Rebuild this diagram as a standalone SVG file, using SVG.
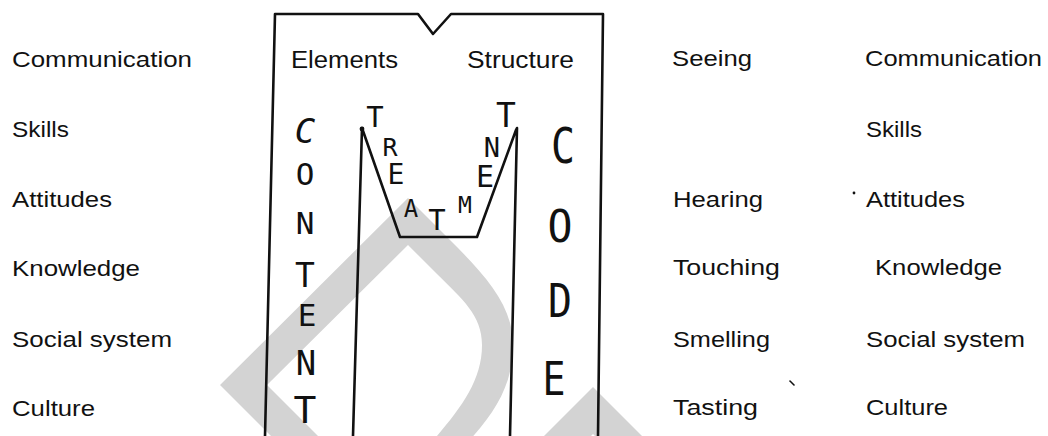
<svg xmlns="http://www.w3.org/2000/svg" width="1048" height="436" viewBox="0 0 1048 436">
  <style>
    .lbl { font-family: "Liberation Sans", Arial, sans-serif; font-size: 22px; fill: #111; }
    .hdr { font-family: "Liberation Sans", Arial, sans-serif; font-size: 23px; fill: #111; }
    .hw { font-family: "DejaVu Sans Mono", monospace; fill: #111; text-anchor: middle; }
    .ln { fill: none; stroke: #111; stroke-width: 2.6; stroke-linecap: round; stroke-linejoin: round; }
    .wm { fill: #d3d3d3; fill-rule: evenodd; }
  </style>
  <rect width="1048" height="436" fill="#ffffff"/>

  <g id="watermark">
    <path class="wm" d="M408,198 L450,240 C485,275 513,305 513,345 C513,385 495,415 460,450 L285,450 L220,385 Z M408,245 L437,274 C462,299 482,315 482,345 C482,385 455,415 425,450 L332,450 L267,385 Z"/>
    <path class="wm" d="M593,387 L660,454 L613,454 L593,434 L573,454 L526,454 Z"/>
  </g>

  <g id="connectors">
    <path class="ln" d="M265,436 L275,14 L418,14 L433,34 L451,14 L603,14 L598,436"/>
    <path class="ln" d="M353,436 L362,128 L400,237 L477,237 L516,130 L517,128 L510,436"/>
    <circle cx="362" cy="129" r="2.4" fill="#111"/>
  </g>

  <g id="box-headers">
    <text class="hdr" x="291" y="68" textLength="107" lengthAdjust="spacingAndGlyphs">Elements</text>
    <text class="hdr" x="467" y="68" textLength="107" lengthAdjust="spacingAndGlyphs">Structure</text>
  </g>

  <g id="content">
    <text class="hw" x="305" y="143" font-size="34" font-family="Liberation Serif" font-style="italic">C</text>
    <text class="hw" x="305" y="185" font-size="31">O</text>
    <text class="hw" x="305" y="234" font-size="31">N</text>
    <text class="hw" x="305" y="287" font-size="33">T</text>
    <text class="hw" x="307" y="326" font-size="31">E</text>
    <text class="hw" x="306" y="375" font-size="34">N</text>
    <text class="hw" x="305" y="423" font-size="38">T</text>
  </g>

  <g id="code">
    <text class="hw" x="563" y="163" font-size="50" textLength="24" lengthAdjust="spacingAndGlyphs">C</text>
    <text class="hw" x="560" y="242" font-size="44" textLength="25" lengthAdjust="spacingAndGlyphs">O</text>
    <text class="hw" x="560" y="317" font-size="47" textLength="24" lengthAdjust="spacingAndGlyphs">D</text>
    <text class="hw" x="554" y="395" font-size="47" textLength="23" lengthAdjust="spacingAndGlyphs">E</text>
  </g>

  <g id="treatment">
    <text class="hw" x="375" y="127" font-size="29">T</text>
    <text class="hw" x="390" y="156" font-size="25">R</text>
    <text class="hw" x="396" y="184" font-size="28">E</text>
    <text class="hw" x="411" y="217" font-size="24">A</text>
    <text class="hw" x="437" y="230" font-size="29">T</text>
    <text class="hw" x="465" y="213" font-size="23">M</text>
    <text class="hw" x="485" y="187" font-size="30">E</text>
    <text class="hw" x="492" y="157" font-size="27">N</text>
    <text class="hw" x="506" y="127" font-size="33">T</text>
  </g>

  <g id="left-list">
    <text class="lbl" x="12" y="67" textLength="180" lengthAdjust="spacingAndGlyphs">Communication</text>
    <text class="lbl" x="12" y="137" textLength="57" lengthAdjust="spacingAndGlyphs">Skills</text>
    <text class="lbl" x="12" y="207" textLength="100" lengthAdjust="spacingAndGlyphs">Attitudes</text>
    <text class="lbl" x="12" y="276" textLength="128" lengthAdjust="spacingAndGlyphs">Knowledge</text>
    <text class="lbl" x="12" y="347" textLength="160" lengthAdjust="spacingAndGlyphs">Social system</text>
    <text class="lbl" x="12" y="416" textLength="83" lengthAdjust="spacingAndGlyphs">Culture</text>
  </g>

  <g id="senses">
    <text class="lbl" x="672" y="66" textLength="80" lengthAdjust="spacingAndGlyphs">Seeing</text>
    <text class="lbl" x="673" y="207" textLength="90" lengthAdjust="spacingAndGlyphs">Hearing</text>
    <text class="lbl" x="673" y="275" textLength="107" lengthAdjust="spacingAndGlyphs">Touching</text>
    <text class="lbl" x="673" y="347" textLength="97" lengthAdjust="spacingAndGlyphs">Smelling</text>
    <text class="lbl" x="673" y="415" textLength="85" lengthAdjust="spacingAndGlyphs">Tasting</text>
  </g>

  <g id="right-list">
    <text class="lbl" x="865" y="66" textLength="177" lengthAdjust="spacingAndGlyphs">Communication</text>
    <text class="lbl" x="866" y="137" textLength="56" lengthAdjust="spacingAndGlyphs">Skills</text>
    <text class="lbl" x="866" y="207" textLength="99" lengthAdjust="spacingAndGlyphs">Attitudes</text>
    <text class="lbl" x="875" y="275" textLength="127" lengthAdjust="spacingAndGlyphs">Knowledge</text>
    <text class="lbl" x="866" y="347" textLength="159" lengthAdjust="spacingAndGlyphs">Social system</text>
    <text class="lbl" x="866" y="415" textLength="82" lengthAdjust="spacingAndGlyphs">Culture</text>
  </g>

  <g id="specks">
    <circle cx="854" cy="193" r="1.4" fill="#111"/>
    <path d="M790,381 L794,385" stroke="#111" stroke-width="1.6" stroke-linecap="round"/>
  </g>
</svg>
